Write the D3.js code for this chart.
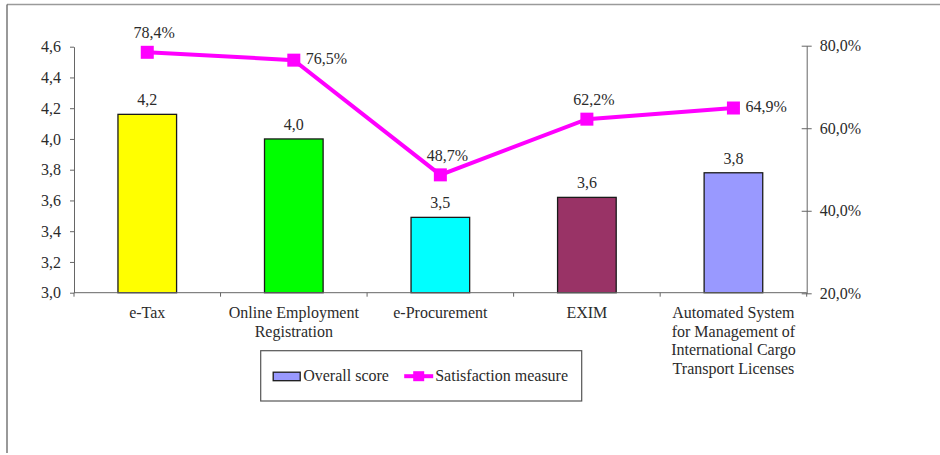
<!DOCTYPE html>
<html>
<head>
<meta charset="utf-8">
<script src="https://cdn.jsdelivr.net/npm/d3@7"></script>
<style>
  html, body { margin: 0; padding: 0; background: #fff; }
  svg { display: block; }
</style>
</head>
<body>
<svg id="chart" width="940" height="455"></svg>
<script>
// e-services: overall score (bars, left axis) and satisfaction (line, right axis)
const categories = [
  ["e-Tax"],
  ["Online Employment", "Registration"],
  ["e-Procurement"],
  ["EXIM"],
  ["Automated System", "for Management of", "International Cargo", "Transport Licenses"]
];
const overallScore = [4.16, 4.00, 3.49, 3.62, 3.78];
const satisfaction = [0.784, 0.765, 0.487, 0.622, 0.649];
const barColors = ["#FFFF00", "#00FF00", "#00FFFF", "#993366", "#9999FF"];
const leftTicks = [3.0, 3.2, 3.4, 3.6, 3.8, 4.0, 4.2, 4.4, 4.6];
const rightTicks = [0.2, 0.4, 0.6, 0.8];
// label placement for the satisfaction values: above the marker or to its right
const satLabelSide = ["top", "right", "top", "top", "right"];
const legendLabels = ["Overall score", "Satisfaction measure"];

const FONT = '"Liberation Serif"';
const FS = "16px";
const INK = "#2b2b2b";

const loc = d3.formatLocale({ decimal: ",", thousands: " ", grouping: [3], currency: ["", ""] });
const fmt1 = loc.format(".1f");
const fmtPct = loc.format(".1%");

const svg = d3.select("#chart");
const plot = { left: 74, right: 806.7, top: 46.7, bottom: 292.7 };
const ids = categories.map((c, i) => i);

const x = d3.scaleBand().domain(ids).range([plot.left, plot.right])
  .paddingInner(0.6).paddingOuter(0.3);
const xb = d3.scaleBand().domain(ids).range([plot.left, plot.right]).padding(0);
const yL = d3.scaleLinear().domain([3.0, 4.6]).range([plot.bottom, plot.top]);
const yR = d3.scaleLinear().domain([0.2, 0.8]).range([plot.bottom + 0.6, plot.top - 1]);

// outer frame (top and left edges)
svg.append("line").attr("x1", 7).attr("x2", 940).attr("y1", 4.5).attr("y2", 4.5)
  .attr("stroke", "#9a9a9a").attr("stroke-width", 1.6);
svg.append("line").attr("x1", 7).attr("x2", 7).attr("y1", 4.5).attr("y2", 453)
  .attr("stroke", "#555").attr("stroke-width", 1.2);

// bars
svg.append("g").selectAll("rect").data(ids).join("rect")
  .attr("x", i => x(i))
  .attr("y", i => yL(overallScore[i]))
  .attr("width", x.bandwidth())
  .attr("height", i => yL(3.0) - yL(overallScore[i]))
  .attr("fill", i => barColors[i])
  .attr("stroke", "#1a1a1a").attr("stroke-width", 1.3);

// left axis
const axL = svg.append("g").attr("transform", `translate(${plot.left},0)`)
  .call(d3.axisLeft(yL).tickValues(leftTicks).tickFormat(fmt1).tickSize(4).tickSizeOuter(0).tickPadding(9));
axL.select(".domain").attr("stroke", "#666");
axL.selectAll(".tick line").attr("stroke", "#666");

// right axis, ticks crossing the line
const axR = svg.append("g").attr("transform", `translate(${plot.right},0)`)
  .call(d3.axisRight(yR).tickValues(rightTicks).tickFormat(fmtPct).tickSize(5).tickSizeOuter(0).tickPadding(8));
axR.select(".domain").attr("stroke", "#666");
axR.selectAll(".tick line").attr("x1", -5).attr("x2", 5).attr("stroke", "#666");
[axL, axR].forEach(a => a.attr("font-family", null).attr("font-size", null));

// category axis with ticks at band boundaries
const axX = svg.append("g");
axX.append("line").attr("x1", plot.left).attr("x2", plot.right)
  .attr("y1", plot.bottom).attr("y2", plot.bottom).attr("stroke", "#666");
const bounds = ids.map(i => xb(i)).concat([xb(ids.length - 1) + xb.bandwidth()]);
axX.selectAll("line.tk").data(bounds).join("line").attr("class", "tk")
  .attr("x1", d => d).attr("x2", d => d)
  .attr("y1", plot.bottom).attr("y2", plot.bottom + 4).attr("stroke", "#666");
const catText = axX.selectAll("text").data(ids).join("text")
  .attr("x", i => xb(i) + xb.bandwidth() / 2)
  .attr("y", plot.bottom + 25)
  .attr("text-anchor", "middle");
catText.selectAll("tspan").data(i => categories[i]).join("tspan")
  .attr("x", function () { return d3.select(this.parentNode).attr("x"); })
  .attr("dy", (d, j) => j === 0 ? 0 : 18.8)
  .text(d => d);

// bar value labels
svg.append("g").selectAll("text").data(ids).join("text")
  .attr("x", i => x(i) + x.bandwidth() / 2)
  .attr("y", i => yL(overallScore[i]) - 9)
  .attr("text-anchor", "middle")
  .text(i => fmt1(overallScore[i]));

// satisfaction line and markers
const cx = i => xb(i) + xb.bandwidth() / 2;
svg.append("path").datum(ids)
  .attr("d", d3.line().x(i => cx(i)).y(i => yR(satisfaction[i])))
  .attr("fill", "none").attr("stroke", "#FF00FF").attr("stroke-width", 4);
svg.append("g").selectAll("rect").data(ids).join("rect")
  .attr("x", i => cx(i) - 6.5).attr("y", i => yR(satisfaction[i]) - 6.5)
  .attr("width", 13).attr("height", 13).attr("fill", "#FF00FF");
svg.append("g").selectAll("text").data(ids).join("text")
  .attr("x", i => satLabelSide[i] === "top" ? cx(i) + 7 : cx(i) + 12)
  .attr("y", i => satLabelSide[i] === "top" ? yR(satisfaction[i]) - 14 : yR(satisfaction[i]) + 4)
  .attr("text-anchor", i => satLabelSide[i] === "top" ? "middle" : "start")
  .text(i => fmtPct(satisfaction[i]));

// legend
const lg = svg.append("g").attr("transform", "translate(260.7,350.7)");
lg.append("rect").attr("width", 321).attr("height", 50.3)
  .attr("fill", "#fff").attr("stroke", "#555").attr("stroke-width", 1.2);
lg.append("rect").attr("x", 12.5).attr("y", 21.5).attr("width", 27).attr("height", 8.5)
  .attr("fill", barColors[4]).attr("stroke", "#1a1a1a").attr("stroke-width", 1.3);
lg.append("text").attr("x", 42.5).attr("y", 30.5).text(legendLabels[0]);
lg.append("line").attr("x1", 143.5).attr("x2", 172.5).attr("y1", 25.5).attr("y2", 25.5)
  .attr("stroke", "#FF00FF").attr("stroke-width", 4);
lg.append("rect").attr("x", 152.5).attr("y", 20.5).attr("width", 11).attr("height", 10)
  .attr("fill", "#FF00FF");
lg.append("text").attr("x", 174.5).attr("y", 30.5).text(legendLabels[1]);

// shared typography for every label
svg.selectAll("text")
  .attr("font-family", "Liberation Serif")
  .style("font-family", FONT)
  .style("font-size", FS)
  .style("fill", INK);
</script>
</body>
</html>
